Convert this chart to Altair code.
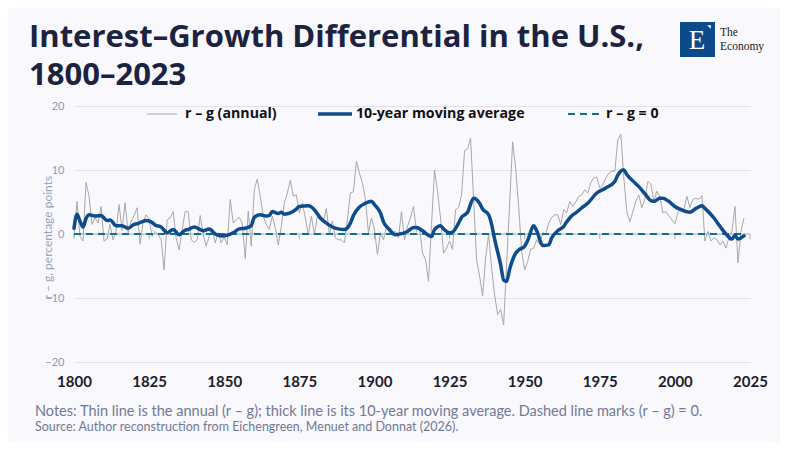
import altair as alt
import pandas as pd

# ---------------- data ----------------
annual_years = list(range(1800, 2024))
annual_values = [
    # 1800s
    -0.5, 5.1, -0.4, -1.1, 8.1, 5.9, 1.5, 2.6, 1.7, 4.3,
    # 1810s
    -1.1, -0.8, 1.5, -0.9, 0.4, 4.6, 0.6, 4.9, 0.2, 2.0,
    # 1820s
    2.9, 4.1, -1.6, 1.8, 3.0, 2.4, -0.4, 0.4, -0.1, -0.9,
    # 1830s
    -5.6, 2.2, 2.5, 3.5, -0.6, -2.5, 0.7, 3.5, 3.5, -0.9,
    # 1840s
    -1.3, -0.9, 2.9, -0.1, -1.9, -0.4, 0.7, -1.4, 0.2, -1.4,
    # 1850s
    -0.4, -1.7, 5.4, 1.7, 2.2, 2.6, 1.7, -3.8, 3.6, -1.9,
    # 1860s
    6.9, 8.6, 5.9, 2.8, 1.5, 0.7, 2.8, 0.9, -1.7, 1.2,
    # 1870s
    4.8, 6.4, 8.4, 5.9, 6.1, 3.3, 4.8, 2.5, -0.1, 2.8,
    # 1880s
    -0.1, 2.8, 2.2, 2.0, 4.0, -0.1, 2.0, -0.6, -0.9, -0.9,
    # 1890s
    -1.4, 2.2, 6.4, 6.6, 11.4, 9.5, 8.0, 5.4, 0.2, 2.5,
    # 1900s
    0.7, -3.2, 0.2, -0.9, 1.2, 0.2, 0.2, 0.4, -0.6, 3.5,
    # 1910s
    -0.9, 1.2, 2.5, 4.3, 0.4, 1.0, -3.0, -4.0, -7.4, 1.5,
    # 1920s
    10.0, 6.7, 2.5, -3.0, -2.2, -1.1, -2.4, 3.8, 4.1, 6.1,
    # 1930s
    13.0, 13.3, 15.0, 5.5, -4.0, -6.6, -9.7, -3.8, -0.1, -5.3,
    # 1940s
    -9.5, -12.6, -11.8, -14.2, -4.7, 4.8, 14.4, 10.3, 4.3, -2.7,
    # 1950s
    -5.6, -4.3, -2.4, -2.2, -0.9, -1.7, 0.2, -0.1, 1.7, 2.6,
    # 1960s
    3.0, 3.0, 1.5, 3.8, 3.3, 5.1, 4.3, 5.0, 5.9, 6.1,
    # 1970s
    6.9, 6.4, 8.0, 8.75, 8.9, 7.2, 7.7, 8.75, 9.5, 9.8,
    # 1980s
    9.8, 14.7, 15.6, 8.75, 3.5, 1.9, 3.5, 5.1, 6.1, 4.1,
    # 1990s
    5.4, 8.2, 7.8, 5.1, 6.7, 5.9, 3.3, 3.5, 2.8, 2.2,
    # 2000s
    1.6, 3.3, 4.1, 3.8, 5.9, 4.1, 5.4, 5.6, 5.4, 6.0,
    # 2010s
    -1.1, 0.4, -1.1, -0.6, -0.9, -1.7, -1.1, -2.2, -0.6, 0.4,
    # 2020s
    4.3, -4.5, 0.4, 2.5,
]

ma_years = [
    1800, 1801, 1802, 1803, 1804, 1805, 1807, 1809, 1810, 1811, 1812, 1814,
    1816, 1818, 1820, 1821, 1824, 1826, 1827, 1829, 1831, 1833, 1835, 1837,
    1838, 1840, 1842, 1843, 1845, 1847, 1849, 1851, 1853, 1855, 1857, 1859,
    1860, 1862, 1864, 1865, 1866, 1868, 1869, 1870, 1872, 1874, 1875, 1878,
    1880, 1882, 1884, 1886, 1888, 1890, 1892, 1893, 1895, 1897, 1899, 1900,
    1902, 1903, 1905, 1907, 1909, 1911, 1913, 1914, 1916, 1918, 1919, 1920,
    1922, 1923, 1925, 1926, 1928, 1929, 1931, 1933, 1935, 1936, 1938, 1939,
    1940, 1942, 1943, 1944, 1945, 1947, 1948, 1950, 1951, 1953, 1954, 1956,
    1958, 1959, 1961, 1963, 1964, 1966, 1967, 1969, 1971, 1974, 1977, 1980,
    1981, 1983, 1984, 1986, 1988, 1990, 1992, 1993, 1995, 1996, 1998, 2000,
    2002, 2005, 2007, 2009, 2010, 2013, 2015, 2017, 2019, 2020, 2021, 2022,
    2023,
]
ma_values = [
    0.9, 3.1, 2.0, 1.1, 2.4, 3.0, 2.8, 2.9, 2.5, 2.1, 2.2, 1.3,
    1.3, 0.9, 1.5, 1.6, 2.1, 1.8, 1.4, 1.1, 0.2, 0.7, -0.1, 0.6,
    0.7, 1.1, 0.7, 0.5, 0.8, 0.0, -0.3, -0.2, 0.2, 0.8, 0.9, 1.3,
    2.6, 3.0, 2.8, 2.9, 3.5, 3.2, 3.4, 3.1, 3.3, 3.9, 4.3, 4.4,
    3.8, 2.5, 1.7, 1.1, 0.8, 0.7, 1.7, 2.9, 4.2, 4.8, 5.1, 4.6,
    3.3, 1.9, 0.7, -0.1, 0.05, 0.4, 1.0, 1.0, 0.5, -0.2, -0.4, 0.7,
    1.3, 0.8, 0.2, 0.3, 1.7, 2.6, 3.4, 5.6, 4.8, 3.9, 3.0, 1.5,
    -0.8, -4.8, -7.2, -7.4, -5.5, -3.0, -2.5, -1.9, -1.0, 1.3, 0.5, -1.8,
    -1.7, -0.6, 0.5, 1.2, 1.9, 3.0, 3.3, 4.1, 4.8, 6.4, 7.2, 8.2,
    9.2, 10.05, 9.3, 8.3, 7.4, 6.3, 5.2, 5.1, 5.6, 5.6, 5.1, 4.3,
    3.8, 3.4, 4.0, 4.4, 4.0, 2.5, 1.2, 0.0, -0.8, -0.2, -0.8, -0.6,
    -0.3,
]

zero_years = [1800, 2023]
zero_values = [0, 0]

tick_years = [1800, 1825, 1850, 1875, 1900, 1925, 1950, 1975, 2000, 2025]
y_ticks = [-20, -10, 0, 10, 20]

title_lines = ["Interest–Growth Differential in the U.S.,", "1800–2023"]
legend_labels = ["r – g (annual)", "10-year moving average", "r – g = 0"]
y_title = "r – g, percentage points"
notes_text = ("Notes: Thin line is the annual (r – g); thick line is its 10-year "
              "moving average. Dashed line marks (r – g) = 0.")
source_text = "Source: Author reconstruction from Eichengreen, Menuet and Donnat (2026)."

# ---------------- styles ----------------
BG = "#f8f8fd"
GRAY = "#a9a9a9"
BLUE = "#0f4c8b"
TEAL = "#12708f"
FONT = "Lato"
HEAD_FONT = "Open Sans"

annual_df = pd.DataFrame({"year": annual_years, "value": annual_values})
ma_df = pd.DataFrame({"year": ma_years, "value": ma_values})
zero_df = pd.DataFrame({"year": zero_years, "value": zero_values})
tick_df = pd.DataFrame({"year": tick_years})
one = pd.DataFrame({"k": [0]})

x_scale = alt.Scale(domain=[1800, 2025], nice=False, zero=False)
y_scale = alt.Scale(domain=[-20, 20], nice=False)

x_axis = alt.Axis(values=tick_years, format="d", title=None, domain=False, ticks=False,
                  grid=False, labelFont=FONT, labelFontSize=15, labelFontWeight="bold",
                  labelColor="#1d1d2b", labelPadding=12, labelFlush=False, labelOverlap=False)
y_axis = alt.Axis(values=y_ticks, title=y_title, domain=False, ticks=False, grid=True,
                  gridColor="#e1e2ea", gridWidth=1, labelFont=FONT, labelFontSize=11,
                  labelColor="#8f9bbd", labelPadding=10, titleFont=FONT, titleFontSize=12,
                  titleFontWeight="normal", titleColor="#9aa3c2", titleX=-27, titleY=131,
                  titleAngle=270, titleAlign="center", titleBaseline="middle")

base_x = alt.X("year:Q", scale=x_scale, axis=x_axis)
base_y = alt.Y("value:Q", scale=y_scale, axis=y_axis)

annual = alt.Chart(annual_df).mark_line(color=GRAY, strokeWidth=1).encode(x=base_x, y=base_y)

zero_rule = alt.Chart(one).mark_rule(color="#b3b3b3", strokeWidth=1).encode(y=alt.datum(0))

zero_ticks = alt.Chart(tick_df).mark_rule(color="#b3b3b3", strokeWidth=1).encode(
    x=alt.X("year:Q", scale=x_scale), y=alt.datum(0), y2=alt.datum(-0.8))

zero_dash = alt.Chart(zero_df).mark_line(color=TEAL, strokeWidth=2, strokeDash=[7, 5]).encode(
    x=alt.X("year:Q", scale=x_scale), y=alt.Y("value:Q", scale=y_scale))

ma = alt.Chart(ma_df).mark_line(color=BLUE, strokeWidth=3.5, strokeJoin="round",
                                strokeCap="round", interpolate="monotone").encode(
    x=alt.X("year:Q", scale=x_scale), y=alt.Y("value:Q", scale=y_scale))

# ---------------- legend ----------------
LEG_Y = 8
leg_parts = []
for (x1, x2, col, sw, dash), (lx, lab) in zip(
    [(73, 103, GRAY, 1, None), (244, 278, BLUE, 3.5, None), (494, 528, TEAL, 2, [7, 5])],
    [(111, legend_labels[0]), (282, legend_labels[1]), (532, legend_labels[2])],
):
    kw = dict(color=col, strokeWidth=sw)
    if dash:
        kw["strokeDash"] = dash
    leg_parts.append(alt.Chart(one).mark_rule(**kw).encode(
        x=alt.value(x1), x2=alt.value(x2), y=alt.value(LEG_Y)))
    leg_parts.append(alt.Chart(one).mark_text(
        text=lab, font=HEAD_FONT, fontSize=14.2, fontWeight="bold", color="#111111",
        align="left", baseline="middle").encode(x=alt.value(lx), y=alt.value(LEG_Y)))

# ---------------- title, logo, notes ----------------
title1 = alt.Chart(one).mark_text(text=title_lines[0], font=HEAD_FONT, fontSize=31,
                                  fontWeight="bold", color="#1c2340", align="left",
                                  baseline="alphabetic").encode(
    x=alt.value(-45), y=alt.value(-59))
title2 = alt.Chart(one).mark_text(text=title_lines[1], font=HEAD_FONT, fontSize=31,
                                  fontWeight="bold", color="#1c2340", align="left",
                                  baseline="alphabetic").encode(
    x=alt.value(-45), y=alt.value(-21))

logo_box = alt.Chart(one).mark_rect(color="#0c4a8c").encode(
    x=alt.value(606), x2=alt.value(641), y=alt.value(-84), y2=alt.value(-49))
logo_e = alt.Chart(one).mark_text(text="E", font="Liberation Serif", fontSize=27, color="white",
                                  align="center", baseline="alphabetic").encode(
    x=alt.value(623), y=alt.value(-57))
logo_tri = alt.Chart(one).mark_point(shape="M-1,-1L1,-1L1,1Z", filled=True, color="white",
                                     size=14, opacity=1).encode(x=alt.value(635), y=alt.value(-79))
logo_t1 = alt.Chart(one).mark_text(text="The", font="Liberation Serif", fontSize=11.5,
                                   color="#222222", align="left", baseline="alphabetic").encode(
    x=alt.value(646), y=alt.value(-70))
logo_t2 = alt.Chart(one).mark_text(text="Economy", font="Liberation Serif", fontSize=11.5,
                                   color="#222222", align="left", baseline="alphabetic").encode(
    x=alt.value(646), y=alt.value(-56.5))

notes = alt.Chart(one).mark_text(text=notes_text, font=FONT, fontSize=14.5, color="#737a96",
                                 align="left", baseline="alphabetic").encode(
    x=alt.value(-39), y=alt.value(310))
source = alt.Chart(one).mark_text(text=source_text, font=FONT, fontSize=12.5, color="#737a96",
                                  align="left", baseline="alphabetic").encode(
    x=alt.value(-39), y=alt.value(325))

chart = alt.layer(
    annual, zero_rule, zero_ticks, zero_dash, ma, *leg_parts,
    title1, title2, logo_box, logo_e, logo_tri, logo_t1, logo_t2, notes, source,
).properties(
    width=676, height=256,
    autosize=alt.AutoSizeParams(type="none"),
    padding={"left": 66, "top": 98, "right": 30, "bottom": 80},
    background=BG,
).configure_view(stroke=None)

chart.save("out.html", embed_options={"renderer": "svg", "actions": False})
